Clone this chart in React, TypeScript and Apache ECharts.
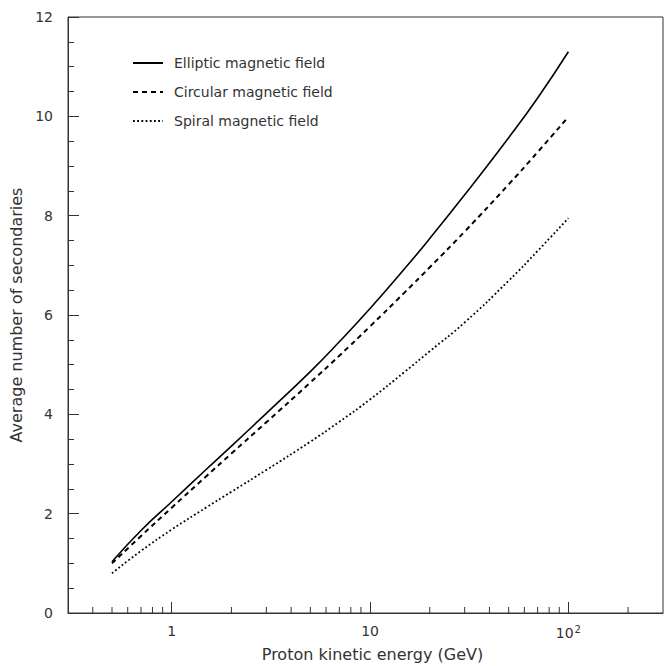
import React, { useEffect, useRef } from "react";
import * as echarts from "echarts";

const energy = [0.5, 0.7, 1, 1.5, 2, 3, 5, 7, 10, 15, 20, 30, 50, 70, 100];
const elliptic = [1.03, 1.66, 2.24, 2.9, 3.36, 4.02, 4.86, 5.46, 6.13, 6.94, 7.54, 8.42, 9.57, 10.37, 11.3];
const circular = [1.0, 1.55, 2.12, 2.76, 3.21, 3.84, 4.64, 5.18, 5.77, 6.46, 6.96, 7.68, 8.63, 9.28, 9.99];
const spiral = [0.8, 1.25, 1.68, 2.13, 2.44, 2.88, 3.45, 3.85, 4.3, 4.86, 5.27, 5.85, 6.69, 7.29, 7.95];
const seriesNames = ["Elliptic magnetic field", "Circular magnetic field", "Spiral magnetic field"];
const xMinorTicks = [0.4, 0.5, 0.6, 0.7, 0.8, 0.9, 2, 3, 4, 5, 6, 7, 8, 9, 20, 30, 40, 50, 60, 70, 80, 90, 200];

const FONT = "'DejaVu Sans', 'Noto Sans', sans-serif";
const AX = "#333";

export default function App() {
  const ref = useRef<HTMLDivElement>(null);
  useEffect(() => {
    document.body.style.margin = "0";
    const chart = echarts.init(ref.current!, null, { renderer: "svg" });
    const pair = (ys: number[]) => energy.map((e, i) => [e, ys[i]]);
    chart.setOption({
      animation: false,
      backgroundColor: "#fff",
      grid: {
        left: 68, top: 17, right: 2, bottom: 53,
        containLabel: false,
        outerBoundsMode: "none",
        show: true, borderColor: AX, borderWidth: 1, backgroundColor: "transparent",
      },
      legend: {
        data: seriesNames,
        orient: "vertical",
        left: 132,
        top: 56,
        padding: 0,
        itemWidth: 30,
        itemHeight: 14,
        itemGap: 15,
        itemStyle: { color: "transparent", borderWidth: 0, opacity: 0 },
        textStyle: { fontFamily: FONT, fontSize: 14, color: "#333", padding: [0, 0, 0, 6] },
      },
      xAxis: {
        type: "log",
        logBase: 10,
        min: 0.3,
        max: 300,
        name: "Proton kinetic energy (GeV)",
        nameLocation: "middle",
        nameGap: 33,
        nameTextStyle: { fontFamily: FONT, fontSize: 16, color: "#333", padding: [0, 0, 0, 14] },
        axisLine: { show: true, lineStyle: { color: AX, width: 1 } },
        axisTick: { show: true, inside: true, length: 11, lineStyle: { color: AX } },
        splitLine: { show: false },
        axisLabel: {
          show: true,
          margin: 11,
          showMinLabel: false,
          showMaxLabel: false,
          fontFamily: FONT,
          fontSize: 14,
          color: "#333",
          formatter: (v: number) => {
            const r = Math.round(v);
            if (r === 100) return "{b|10}{s|2}";
            if (Math.abs(v - 1) < 1e-6) return "1";
            if (r === 10) return "10";
            return "";
          },
          rich: {
            b: { fontFamily: FONT, fontSize: 14, color: "#333" },
            s: { fontFamily: FONT, fontSize: 10, color: "#333", verticalAlign: "top", padding: [0, 0, 8, 1] },
          },
        },
      },
      yAxis: {
        type: "value",
        min: 0,
        max: 12,
        interval: 2,
        name: "Average number of secondaries",
        nameLocation: "middle",
        nameGap: 44,
        nameTextStyle: { fontFamily: FONT, fontSize: 16, color: "#333" },
        axisLine: { show: true, lineStyle: { color: AX, width: 1 } },
        axisTick: { show: true, inside: true, length: 11, lineStyle: { color: AX } },
        minorTick: { show: true, splitNumber: 4, length: 6, lineStyle: { color: AX } },
        splitLine: { show: false },
        minorSplitLine: { show: false },
        axisLabel: { margin: 15, fontFamily: FONT, fontSize: 14, color: "#333" },
      },
      series: [
        {
          name: seriesNames[0], type: "line", data: pair(elliptic), symbol: "none", smooth: 0.5,
          lineStyle: { color: "#000", width: 1.6, type: "solid" }, itemStyle: { color: "#000" },
        },
        {
          name: seriesNames[1], type: "line", data: pair(circular), symbol: "none", smooth: 0.5,
          lineStyle: { color: "#000", width: 2, type: [5, 4] }, itemStyle: { color: "#000" },
        },
        {
          name: seriesNames[2], type: "line", data: pair(spiral), symbol: "none", smooth: 0.5,
          lineStyle: { color: "#000", width: 1.8, type: [1.8, 2.4] }, itemStyle: { color: "#000" },
        },
        {
          name: "minorTicks",
          type: "custom",
          silent: true,
          clip: false,
          data: xMinorTicks.map((v) => [v, 0]),
          renderItem: (_params: any, api: any) => {
            const p = api.coord([api.value(0), 0]);
            return {
              type: "line",
              shape: { x1: p[0], y1: p[1], x2: p[0], y2: p[1] - 6 },
              style: { stroke: AX, lineWidth: 1 },
            };
          },
        },
      ],
    });
    return () => chart.dispose();
  }, []);
  return <div ref={ref} style={{ width: 665, height: 666 }} />;
}
